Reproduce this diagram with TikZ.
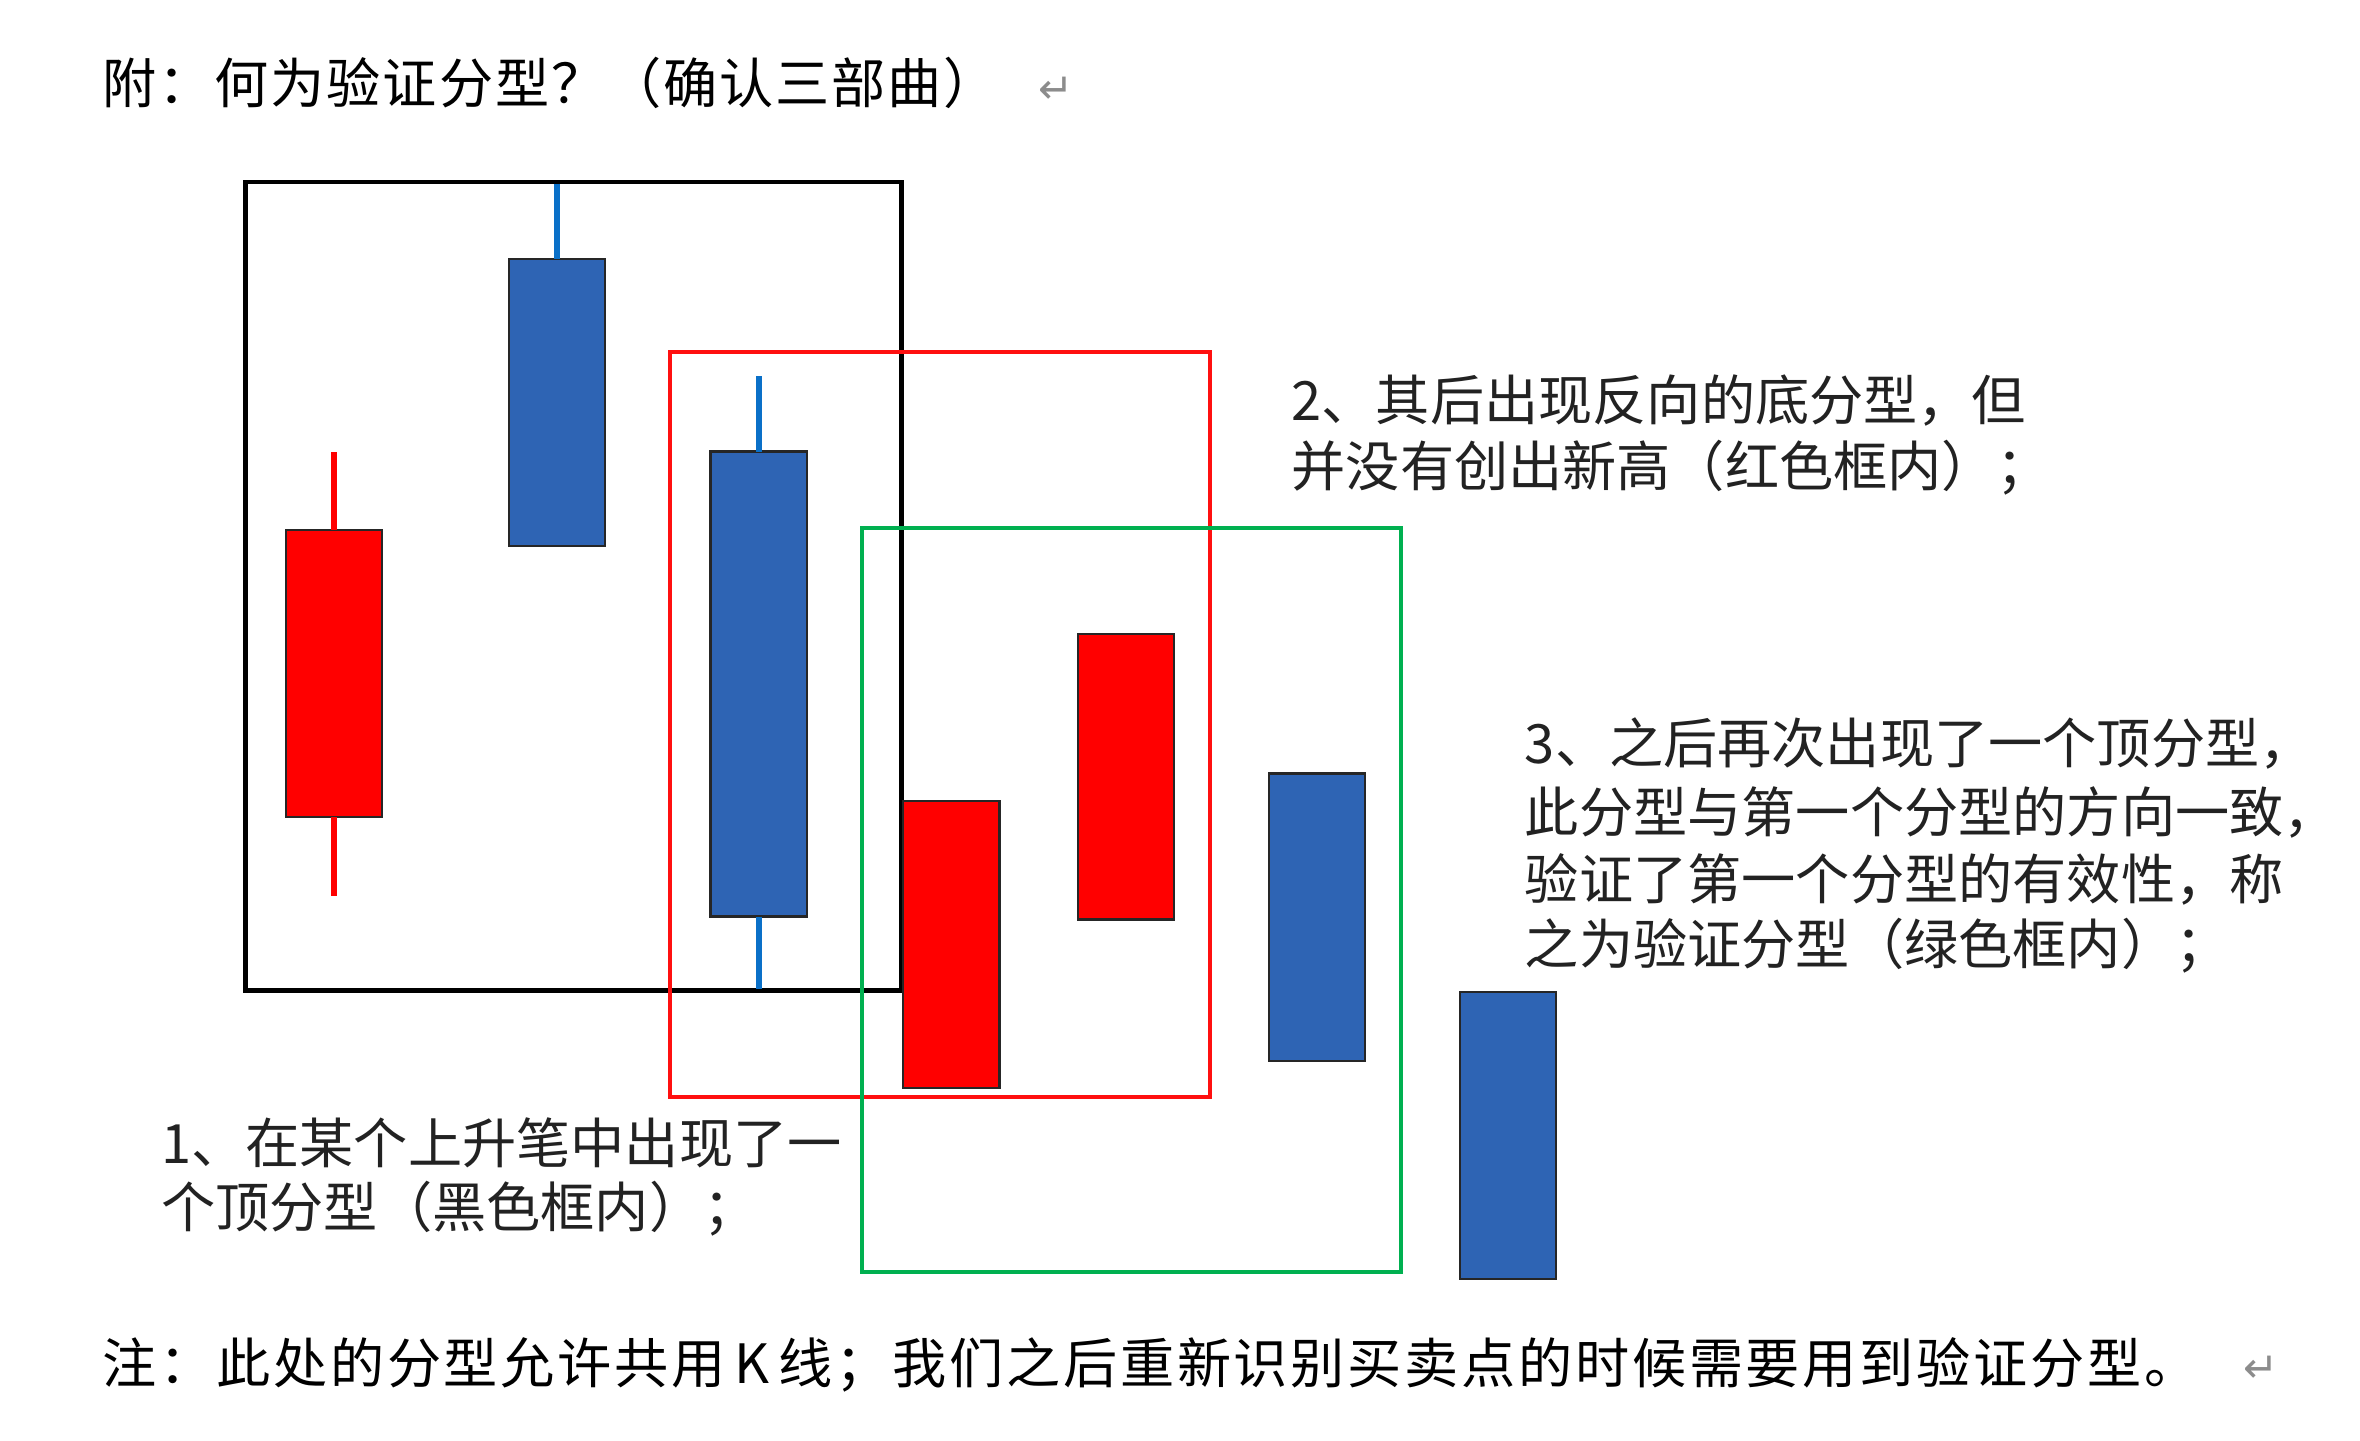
\documentclass[tikz,border=0pt]{standalone}
\usepackage{fontspec}
\setmainfont{Noto Sans CJK SC}
\newfontfamily\symfont{DejaVu Sans}
\newfontfamily\spacedfont[LetterSpace=5]{Noto Sans CJK SC}
\newfontfamily\titlefont[LetterSpace=3.5]{Noto Sans CJK SC}
\definecolor{candlered}{HTML}{FF0000}
\definecolor{candleblue}{HTML}{2E64B4}
\definecolor{wickblue}{HTML}{0A70C8}
\definecolor{framegreen}{HTML}{00B050}
\definecolor{framered}{HTML}{FF1010}
\definecolor{txt}{HTML}{222222}
\tikzset{
  body/.style={draw=black!85, line width=1.5pt, minimum width=64pt, inner sep=0pt, outer sep=0pt},
  redbody/.style={body, fill=candlered},
  bluebody/.style={body, fill=candleblue},
  redwick/.style={draw=candlered, line width=4pt},
  bluewick/.style={draw=wickblue, line width=4pt},
  frame/.style={inner sep=0pt, outer sep=0pt},
  lbl/.style={anchor=west, inner sep=0pt, font=\fontsize{36}{44}\selectfont, text=txt},
  head/.style={anchor=west, inner sep=0pt, text=black},
  retmark/.style={inner sep=0pt, font=\symfont\fontsize{28}{32}\selectfont, text=black!45}
}
\begin{document}
\begin{tikzpicture}[x=1pt,y=-1pt]
\useasboundingbox[fill=white] (0,0) rectangle (1568,957);

% frames
\node[frame, draw=black, line width=3pt, minimum width=436pt, minimum height=537pt] (fblack) at (381,389.5) {};
\node[frame, draw=framered, line width=2.6pt, minimum width=359pt, minimum height=495pt] (fred) at (624.5,481.5) {};
\node[frame, draw=framegreen, line width=2.6pt, minimum width=358pt, minimum height=494pt] (fgreen) at (752,598) {};

% candles
\node[redbody, minimum height=191pt] (c1) at (222,447.5) {};
\coordinate (c1t) at (222,300);
\coordinate (c1b) at (222,595);
\draw[redwick] (c1.north) -- (c1t);
\draw[redwick] (c1.south) -- (c1b);

\node[bluebody, minimum height=191pt] (c2) at (370,267.5) {};
\coordinate (c2t) at (370,122);
\draw[bluewick] (c2.north) -- (c2t);

\node[bluebody, minimum height=309pt] (c3) at (504,454.5) {};
\coordinate (c3t) at (504,250);
\coordinate (c3b) at (504,657);
\draw[bluewick] (c3.north) -- (c3t);
\draw[bluewick] (c3.south) -- (c3b);

\node[redbody, minimum height=191pt] (c4) at (632,627.5) {};
\node[redbody, minimum height=190pt] (c5) at (748,516) {};
\node[bluebody, minimum height=191pt] (c6) at (875,609.5) {};
\node[bluebody, minimum height=191pt] (c7) at (1002,754.5) {};

% texts
\node[head, font=\titlefont\fontsize{36}{44}\selectfont] (title) at (68,55) {附：何为验证分型？（确认三部曲）};
\node[retmark] (ret1) at (702,60) {↵};

\node[lbl] (t2a) at (858,266) {2、其后出现反向的底分型，但};
\node[lbl] (t2b) at (858,311) {并没有创出新高（红色框内）；};

\node[lbl] (t3a) at (1013,494) {3、之后再次出现了一个顶分型，};
\node[lbl] (t3b) at (1013,540) {此分型与第一个分型的方向一致，};
\node[lbl] (t3c) at (1013,584) {验证了第一个分型的有效性，称};
\node[lbl] (t3d) at (1013,628) {之为验证分型（绿色框内）；};

\node[lbl] (t1a) at (107,759) {1、在某个上升笔中出现了一};
\node[lbl] (t1b) at (107,803) {个顶分型（黑色框内）；};

\node[head, font=\spacedfont\fontsize{36}{44}\selectfont] (foot) at (68,907) {注：此处的分型允许共用\,K\,线；我们之后重新识别买卖点的时候需要用到验证分型。};
\node[retmark] (ret2) at (1502,910) {↵};
\end{tikzpicture}
\end{document}
